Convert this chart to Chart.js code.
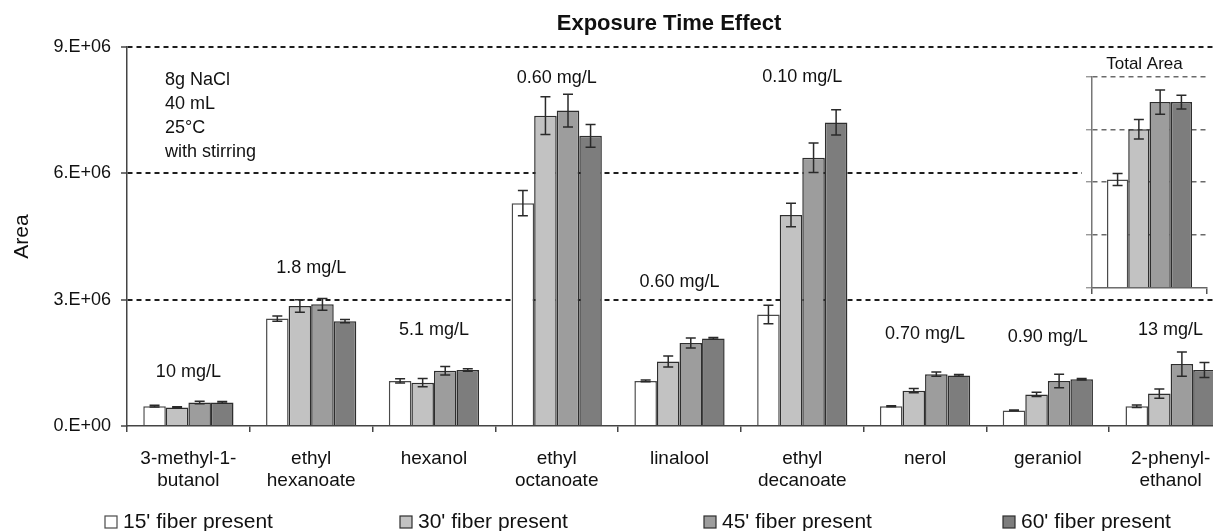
<!DOCTYPE html>
<html>
<head>
<meta charset="utf-8">
<title>Exposure Time Effect</title>
<script src="https://cdn.jsdelivr.net/npm/chart.js@4.4.1/dist/chart.umd.min.js"></script>
<style>
    html, body { margin: 0; padding: 0; background: #fff; overflow: hidden; }
    #wrap { position: relative; width: 1213px; height: 531px; overflow: hidden; }
    #mainChart { position: absolute; left: 0; top: 0; }
    #totalChart { position: absolute; left: 1082px; top: 50px; background: #fff; }
</style>
</head>
<body>
<div id="wrap">
    <canvas id="mainChart" width="1240" height="531"></canvas>
    <canvas id="totalChart" width="131" height="245"></canvas>
</div>
<script>
// exposure time effect - peak area per compound, values in millions
const categories = [
    ['3-methyl-1-', 'butanol'], ['ethyl', 'hexanoate'], 'hexanol', ['ethyl', 'octanoate'],
    'linalool', ['ethyl', 'decanoate'], 'nerol', 'geraniol', ['2-phenyl-', 'ethanol']
];
const seriesNames = ["15' fiber present", "30' fiber present", "45' fiber present", "60' fiber present"];

const area15 = [0.47, 2.55, 1.07, 5.29, 1.07, 2.65, 0.47, 0.37, 0.47];
const area30 = [0.44, 2.85, 1.03, 7.37, 1.53, 5.01, 0.84, 0.75, 0.77];
const area45 = [0.56, 2.89, 1.31, 7.49, 1.97, 6.37, 1.23, 1.07, 1.47];
const area60 = [0.56, 2.49, 1.33, 6.89, 2.08, 7.21, 1.20, 1.11, 1.33];

const err15 = [0.02, 0.06, 0.05, 0.30, 0.02, 0.22, 0.01, 0.01, 0.03];
const err30 = [0.02, 0.15, 0.10, 0.45, 0.13, 0.28, 0.05, 0.05, 0.11];
const err45 = [0.03, 0.14, 0.10, 0.39, 0.12, 0.35, 0.05, 0.16, 0.29];
const err60 = [0.02, 0.04, 0.03, 0.27, 0.02, 0.30, 0.02, 0.02, 0.18];

// concentration labels and the area value they sit at
const concLabels = ['10 mg/L', '1.8 mg/L', '5.1 mg/L', '0.60 mg/L', '0.60 mg/L', '0.10 mg/L', '0.70 mg/L', '0.90 mg/L', '13 mg/L'];
const concAnchor = [1.27, 3.75, 2.27, 8.27, 3.42, 8.28, 2.19, 2.12, 2.27];

const yTicks = [0, 3, 6, 9];

// inset: total area over all compounds
const totalLabels = ['Total Area'];
const total15 = [14.35];
const total30 = [21.0];
const total45 = [24.6];
const total60 = [24.6];
const totalErr = [0.8, 1.3, 1.6, 0.9];

const notes = ['8g NaCl', '40 mL', '25\u00B0C', 'with stirring'];

const FILLS = ['#ffffff', '#c2c2c2', '#9d9d9d', '#7d7d7d'];
const EDGES = ['#4a4a4a', '#2e2e2e', '#2e2e2e', '#2e2e2e'];
const FONT = "'Liberation Sans', Arial, sans-serif";

Chart.defaults.font.family = FONT;
Chart.defaults.color = '#111';
Chart.defaults.animation = false;

const errorBars = {
    id: 'errorBars',
    afterDatasetsDraw(chart) {
        const ctx = chart.ctx;
        const y = chart.scales.y;
        ctx.save();
        ctx.strokeStyle = '#2a2a2a';
        ctx.lineWidth = 1.5;
        chart.data.datasets.forEach((ds, i) => {
            const meta = chart.getDatasetMeta(i);
            meta.data.forEach((bar, j) => {
                const v = ds.data[j];
                const e = ds.errors[j];
                const top = y.getPixelForValue(v + e);
                const bot = y.getPixelForValue(v - e);
                const half = 5;
                ctx.beginPath();
                ctx.moveTo(bar.x, top);
                ctx.lineTo(bar.x, bot);
                ctx.moveTo(bar.x - half, top);
                ctx.lineTo(bar.x + half, top);
                ctx.moveTo(bar.x - half, bot);
                ctx.lineTo(bar.x + half, bot);
                ctx.stroke();
            });
        });
        ctx.restore();
    }
};

const decorations = {
    id: 'decorations',
    afterDraw(chart) {
        const ctx = chart.ctx;
        const x = chart.scales.x;
        const y = chart.scales.y;
        const area = chart.chartArea;
        ctx.save();
        ctx.fillStyle = '#111';

        // title
        ctx.font = 'bold 22px ' + FONT;
        ctx.textAlign = 'center';
        ctx.textBaseline = 'middle';
        ctx.fillText('Exposure Time Effect', 669, 24);

        // concentration labels
        ctx.font = '18px ' + FONT;
        concLabels.forEach((txt, i) => {
            ctx.fillText(txt, x.getPixelForValue(i), y.getPixelForValue(concAnchor[i]));
        });

        // sampling conditions
        ctx.textAlign = 'left';
        notes.forEach((txt, i) => {
            ctx.fillText(txt, area.left + 38, area.top + 33 + i * 24);
        });

        // legend
        const legendX = [105, 400, 704, 1003];
        ctx.font = '21px ' + FONT;
        seriesNames.forEach((name, i) => {
            ctx.fillStyle = FILLS[i];
            ctx.fillRect(legendX[i], 516, 12, 12);
            ctx.strokeStyle = EDGES[i];
            ctx.lineWidth = 1.2;
            ctx.strokeRect(legendX[i], 516, 12, 12);
            ctx.fillStyle = '#111';
            ctx.fillText(name, legendX[i] + 18, 522);
        });
        ctx.restore();
    }
};

function makeDatasets(values, errors) {
    return seriesNames.map((name, i) => ({
        label: name,
        data: values[i],
        errors: errors[i],
        backgroundColor: FILLS[i],
        borderColor: EDGES[i],
        borderWidth: 1.5
    }));
}

function initMain() {
    const ctx = document.getElementById('mainChart').getContext('2d');
    new Chart(ctx, {
        type: 'bar',
        data: {
            labels: categories,
            datasets: makeDatasets([area15, area30, area45, area60], [err15, err30, err45, err60])
        },
        options: {
            responsive: false,
            categoryPercentage: 0.735,
            barPercentage: 1,
            layout: { padding: { top: 47, right: 8, bottom: 0, left: 0 } },
            plugins: { legend: { display: false }, tooltip: { enabled: false } },
            scales: {
                x: {
                    afterFit: (scale) => { scale.height = 105; },
                    grid: { offset: true, drawOnChartArea: false, tickLength: 6, color: '#444', lineWidth: 1.5 },
                    border: { color: '#444', width: 1.5 },
                    ticks: { font: { size: 19 }, padding: 15, maxRotation: 0, autoSkip: false, color: '#111' }
                },
                y: {
                    min: 0,
                    max: 9,
                    afterFit: (scale) => { scale.width = 127; },
                    afterBuildTicks: (scale) => { scale.ticks = yTicks.map(v => ({ value: v })); },
                    grid: {
                        color: (c) => c.tick && c.tick.value === 0 ? 'rgba(0,0,0,0)' : '#1e1e1e',
                        lineWidth: 2,
                        tickLength: 6,
                        tickColor: '#444',
                        tickWidth: 1.5
                    },
                    border: { color: '#444', width: 1.5, dash: [5, 4] },
                    ticks: {
                        font: { size: 18 },
                        padding: 10,
                        color: '#111',
                        callback: (v) => v === 0 ? '0.E+00' : v + '.E+06'
                    },
                    title: { display: true, text: 'Area', font: { size: 21 }, padding: { top: 10 }, color: '#111' }
                }
            }
        },
        plugins: [errorBars, decorations]
    });
}

function initTotal() {
    const ctx = document.getElementById('totalChart').getContext('2d');
    new Chart(ctx, {
        type: 'bar',
        data: {
            labels: totalLabels,
            datasets: makeDatasets([total15, total30, total45, total60], totalErr.map(e => [e]))
        },
        options: {
            responsive: false,
            categoryPercentage: 0.74,
            barPercentage: 1,
            layout: { padding: { top: 0, right: 6, bottom: 0, left: 0 } },
            plugins: {
                legend: { display: false },
                tooltip: { enabled: false },
                title: { display: true, text: 'Total Area', font: { size: 17, weight: 'normal' }, color: '#111', padding: { top: 4, bottom: 2 } }
            },
            scales: {
                x: {
                    afterFit: (scale) => { scale.height = 7; },
                    grid: { offset: true, drawOnChartArea: false, tickLength: 6, color: '#555', lineWidth: 1.5 },
                    border: { color: '#666', width: 1.5 },
                    ticks: { display: false }
                },
                y: {
                    min: 0,
                    max: 28,
                    afterFit: (scale) => { scale.width = 10; },
                    ticks: { display: false, stepSize: 7 },
                    grid: {
                        color: (c) => c.tick && c.tick.value === 0 ? 'rgba(0,0,0,0)' : '#6a6a6a',
                        lineWidth: 1.5,
                        tickLength: 6,
                        tickColor: '#888',
                        tickWidth: 1.2
                    },
                    border: { color: '#777', width: 1.5, dash: [5, 4] }
                }
            }
        },
        plugins: [errorBars]
    });
}

initMain();
initTotal();
</script>
</body>
</html>
